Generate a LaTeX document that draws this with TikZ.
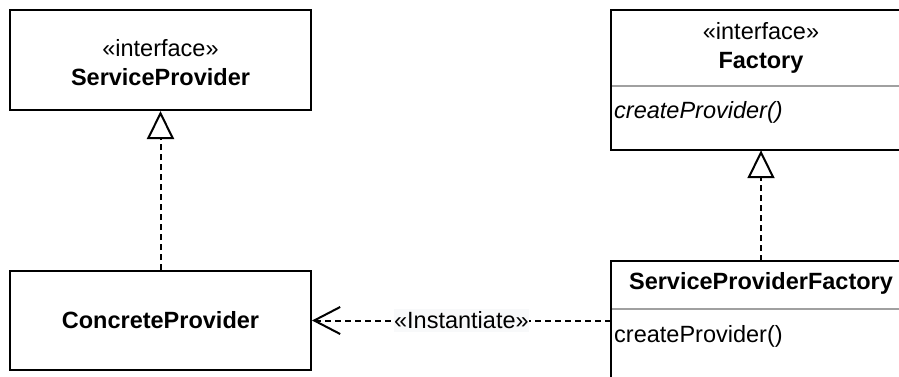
\documentclass[tikz,border=0pt]{standalone}
\usepackage{fontspec}
\setmainfont{Liberation Sans}
\usetikzlibrary{arrows.meta}
\definecolor{sepgray}{RGB}{160,160,160}
\definecolor{lblbg}{RGB}{248,249,250}
\begin{document}
\begin{tikzpicture}[x=1pt,y=-1pt,
  every node/.style={font=\fontsize{23.5}{29}\selectfont},
  umlbox/.style={draw=black,line width=2pt,inner sep=0pt,align=center},
  framebox/.style={inner sep=0pt},
  sepline/.style={draw=sepgray,line width=2.2pt},
  realize/.style={line width=2pt,dash pattern=on 6pt off 4pt,-{Triangle[open,length=28pt,width=27pt,line width=2pt]}},
  depend/.style={line width=2pt,dash pattern=on 6pt off 4pt,-{Straight Barb[length=26pt,width=27pt,line width=2pt]}},
  lbl/.style={fill=lblbg,inner xsep=0pt,inner ysep=3pt}]
\useasboundingbox (0,0) rectangle (899,376);
\fill[white] (0,0) rectangle (899,376);
% ServiceProvider
\node[umlbox,minimum width=301pt,minimum height=100pt] (sp) at (160.5,60) {};
\node[align=center,inner sep=0pt] (spt) at (160.5,63) {«interface»\\\textbf{ServiceProvider}};
% ConcreteProvider
\node[umlbox,minimum width=301pt,minimum height=99pt] (cp) at (160.5,320.5) {\textbf{ConcreteProvider}};
% Factory
\node[framebox,minimum width=300pt,minimum height=140pt] (f) at (761,80) {};
\coordinate (fsl) at (611,86);
\coordinate (fsr) at (911,86);
\draw[sepline] (fsl) -- (fsr);
\draw[black,line width=2pt] (f.north west) rectangle (f.south east);
\node[align=center,inner sep=0pt] (ft) at (761,48) {«interface»\\\textbf{Factory}};
\node[anchor=west,inner sep=0pt] (fm) at (614,112) {\itshape createProvider()};
% ServiceProviderFactory
\node[framebox,minimum width=300pt,minimum height=140pt] (spf) at (761,331) {};
\coordinate (ssl) at (611,309);
\coordinate (ssr) at (911,309);
\draw[sepline] (ssl) -- (ssr);
\draw[black,line width=2pt] (spf.north west) rectangle (spf.south east);
\node[inner sep=0pt] (spft) at (761,283) {\textbf{ServiceProviderFactory}};
\node[anchor=west,inner sep=0pt] (spfm) at (614,336) {createProvider()};
% connectors
\draw[realize] (cp.north) -- (sp.south);
\draw[realize] (spf.north) -- (f.south);
\draw[depend] (spf.west |- cp.east) -- node[lbl] (inst) {«Instantiate»} (cp.east);
\end{tikzpicture}
\end{document}
